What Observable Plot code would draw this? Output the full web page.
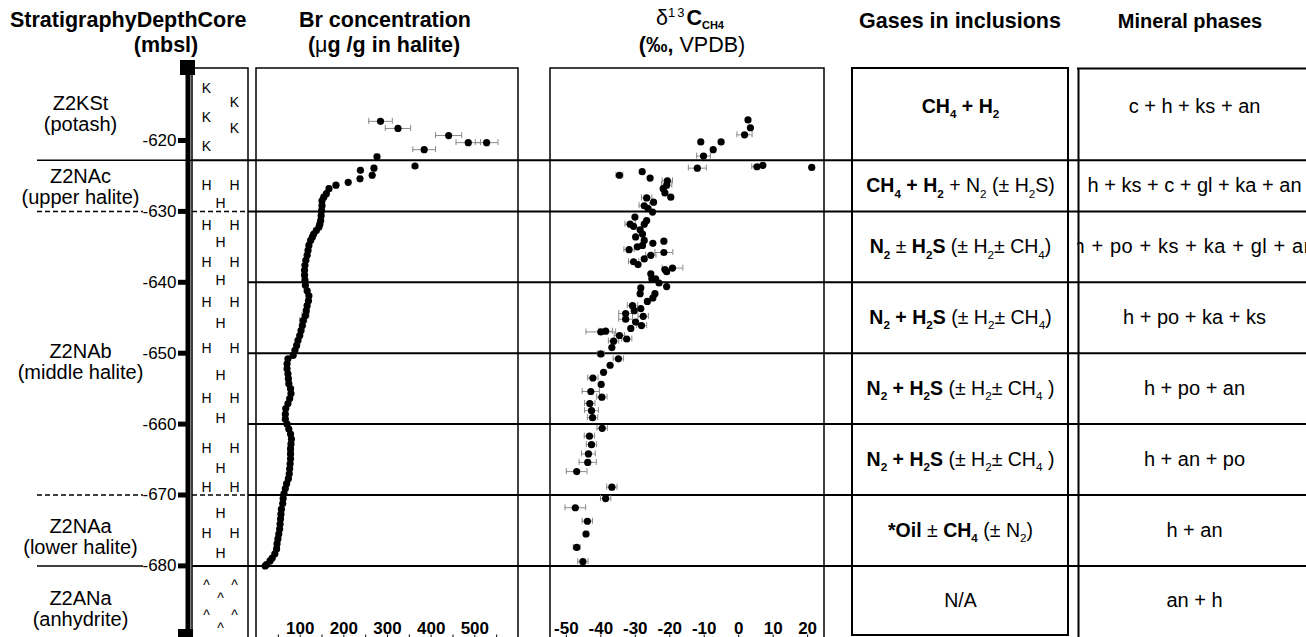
<!DOCTYPE html>
<html><head><meta charset="utf-8">
<script src="https://cdn.jsdelivr.net/npm/d3@7"></script>
<script src="https://cdn.jsdelivr.net/npm/@observablehq/plot@0.6"></script>
<style>
body{margin:0;background:#fff;}
#chart{position:relative;width:1306px;height:637px;overflow:hidden;background:#fff;font-family:"Liberation Sans",Arial,Helvetica,sans-serif;color:#000;}
.hd{position:absolute;font-size:21.5px;font-weight:bold;line-height:24px;white-space:nowrap;}
.c{transform:translateX(-50%);}
.n{font-weight:normal;}
.sup{font-size:13px;position:relative;top:-8px;letter-spacing:2px;}
.sub{font-size:11px;position:relative;top:4px;}
</style></head><body><div id="chart"></div>
<script>
// ---------------- DATA ----------------
const depthTicks = [-620, -630, -640, -650, -660, -670, -680];
const unitNames = ["Z2KSt", "Z2NAc", "Z2NAb", "Z2NAa", "Z2ANa"];
const unitLithology = ["potash", "upper halite", "middle halite", "lower halite", "anhydrite"];
const unitBoundaries = [-622.8, -630, -670, -680];
const boundaryDashed = [false, true, true, false];
const rowBoundaries = [-622.8, -630, -640, -650, -660, -670, -680];
const gasesText = [
  "[CH{4} + H{2}]",
  "[CH{4} + H{2}] + N{2} (± H{2}S)",
  "[N{2}] ± [H{2}S] (± H{2}± CH{4})",
  "[N{2} + H{2}S] (± H{2}± CH{4})",
  "[N{2} + H{2}S] (± H{2}± CH{4} )",
  "[N{2} + H{2}S] (± H{2}± CH{4} )",
  "[*Oil] ± [CH{4}] (± N{2})",
  "N/A"
];
const mineralText = [
  "c + h + ks + an",
  "h + ks + c + gl + ka + an",
  "h + po + ks + ka + gl + an",
  "h + po + ka + ks",
  "h + po + an",
  "h + an + po",
  "h + an",
  "an + h"
];
const brTicks = [50, 100, 150, 200, 250, 300, 350, 400, 450, 500, 550];
const brTickLabels = [100, 200, 300, 400, 500];
const d13Ticks = [-50, -40, -30, -20, -10, 0, 10, 20];
// [depth, symbol, columns]
const coreSymbols = [
  [-612.7, "K", "L"], [-614.6, "K", "R"], [-616.8, "K", "L"], [-618.3, "K", "R"], [-620.8, "K", "L"],
  [-626.3, "H", "LR"], [-628.9, "H", "M"], [-632.0, "H", "LR"], [-634.4, "H", "M"],
  [-637.2, "H", "LR"], [-639.7, "H", "M"], [-642.8, "H", "LR"], [-645.8, "H", "M"],
  [-649.3, "H", "LR"], [-653.1, "H", "M"], [-656.4, "H", "LR"], [-659.2, "H", "M"],
  [-663.4, "H", "LR"], [-666.3, "H", "M"], [-668.9, "H", "LR"], [-672.6, "H", "M"],
  [-675.4, "H", "LR"], [-678.3, "H", "M"],
  [-682.3, "^", "LR"], [-684.2, "^", "M"], [-686.6, "^", "LR"], [-688.4, "^", "M"]
];
// Br concentration: [depth (mbsl), Br (µg/g), error]
const brSamples = [
  [-617.3,284,27],[-618.3,324,29],[-619.3,440,30],[-620.3,485,28],[-620.3,527,26],[-621.3,384,26],
  [-622.3,276,5],[-623.6,363,0],[-623.9,269,4],[-624.2,238,4],[-624.9,265,4],[-625.4,237,4],
  [-625.9,210,0],[-626.3,182,0],[-626.8,166,3],[-627.5,160,3],[-628.0,154,0],[-628.5,150,4],
  [-629.2,150,6],[-629.9,149,0],[-630.6,148,0],[-631.3,147,4],[-631.8,145,0],[-632.2,143,0],
  [-632.7,137,5],[-633.2,131,0],[-633.6,128,0],[-634.1,124,0],[-634.8,120,5],[-635.5,118,0],
  [-636.2,116,0],[-636.9,113,0],[-637.6,111,0],[-638.3,110,0],[-639.0,110,0],[-639.7,111,0],
  [-640.4,112,0],[-641.2,116,0],[-641.9,120,0],[-642.6,119,0],[-643.3,116,0],[-644.0,114,0],
  [-644.7,112,8],[-645.4,107,8],[-646.1,105,0],[-646.8,102,0],[-647.5,99,0],[-648.2,95,0],
  [-648.9,92,0],[-649.6,88,0],[-650.3,84,0],[-650.8,72,0],[-651.5,70,0],[-652.2,70,0],
  [-652.9,72,0],[-653.6,73,0],[-654.3,74,0],[-655.0,78,0],[-655.7,79,0],[-656.4,76,0],
  [-657.1,72,0],[-657.8,67,0],[-658.6,66,0],[-659.3,66,0],[-660.0,70,0],[-660.7,74,0],
  [-661.4,78,0],[-662.1,80,0],[-662.8,79,0],[-663.5,78,6],[-664.2,78,6],[-664.9,78,0],
  [-665.6,77,0],[-666.3,76,0],[-667.0,75,0],[-667.7,73,0],[-668.4,69,0],[-669.1,66,0],
  [-669.8,63,0],[-670.5,61,0],[-671.2,60,0],[-672.0,57,0],[-672.7,56,0],[-673.4,55,0],
  [-674.1,54,0],[-674.8,53,0],[-675.5,51,0],[-676.2,49,0],[-676.9,47,0],[-677.6,46,0],
  [-678.3,42,0],[-678.9,36,0],[-679.3,31,0],[-679.8,23,0],[-680.0,20,0]
];
// δ13C of CH4: [depth (mbsl), ‰ VPDB, error]
const d13Samples = [
  [-617.1,2.7,0],[-618.2,3.4,0],[-619.2,1.7,2.2],[-620.2,-11.0,0],[-620.2,-5.1,0],[-621.3,-7.4,0],
  [-622.2,-10.2,2],[-623.9,-12.0,2.6],[-623.7,5.3,1.5],[-623.5,7.0,0],[-623.8,21.2,0],
  [-624.9,-34.6,1],[-624.4,-28.0,0],[-625.3,-25.7,0],[-625.7,-20.7,1.5],[-626.3,-20.9,1.5],
  [-626.8,-21.9,0],[-627.4,-21.4,0],[-628.0,-19.7,0],[-628.1,-26.7,1.5],[-628.7,-24.7,0],
  [-629.2,-27.4,1.5],[-629.6,-26.3,0],[-630.1,-25.0,0],[-630.8,-30.1,0],[-631.3,-26.7,0],
  [-631.8,-31.5,1.5],[-632.1,-30.5,0],[-631.8,-27.4,0],[-632.6,-28.6,0],[-633.2,-27.9,0],
  [-633.6,-29.9,0],[-634.1,-27.4,0],[-634.5,-24.9,0],[-634.2,-21.7,0],[-635.0,-29.4,0],
  [-635.4,-31.8,1.5],[-634.8,-27.9,0],[-636.2,-25.5,1.5],[-635.8,-21.7,2.6],[-636.7,-27.4,0],
  [-637.1,-30.5,1.5],[-637.5,-29.2,0],[-638.2,-21.4,0],[-638.0,-19.2,3],[-638.5,-20.9,0],
  [-638.8,-25.5,0],[-639.5,-25.2,0],[-639.5,-24.1,0],[-640.1,-23.1,0],[-640.6,-20.9,0],
  [-640.8,-28.4,0],[-641.6,-28.6,0],[-641.6,-24.3,0],[-642.2,-24.9,0],[-642.7,-26.5,0],
  [-643.3,-30.8,1.5],[-643.7,-28.4,0],[-644.0,-30.3,0],[-644.4,-32.8,2],[-645.2,-32.8,2],
  [-644.8,-27.7,1.5],[-645.6,-29.9,0],[-646.1,-28.2,1.5],[-646.5,-31.3,0],[-647.0,-40.0,4.3],
  [-646.9,-38.6,2],[-647.5,-34.6,1.5],[-648.0,-32.5,1.5],[-648.3,-36.3,1.5],[-649.2,-36.8,0],
  [-650.1,-40.0,1],[-650.8,-34.9,1.5],[-651.7,-37.3,0],[-652.7,-39.2,0],[-653.5,-42.3,1.5],
  [-654.4,-39.9,0],[-655.4,-42.9,2.5],[-656.2,-39.7,1.5],[-657.1,-43.2,1.5],[-658.1,-42.7,2],
  [-659.1,-42.4,1.5],[-660.6,-39.6,1.5],[-661.7,-43.3,1.5],[-662.9,-42.7,1.5],[-664.2,-43.6,2],
  [-665.4,-43.8,2.5],[-666.7,-47.0,3],[-668.9,-36.8,1.5],[-670.5,-38.6,1.5],[-671.8,-47.4,3],
  [-673.7,-43.9,1.5],[-675.5,-44.3,0.5],[-677.4,-47.0,1],[-679.4,-45.2,1.5]
];

// ---------------- LAYOUT ----------------
const W = 1306, H = 637;
const PX_PER_M = 7.09, PX_AT_620 = 140;
const px2d = p => -620 - (p - PX_AT_620) / PX_PER_M;
const d2px = d => PX_AT_620 + (-620 - d) * PX_PER_M;
const Y = {domain: [px2d(0), px2d(H)], range: [0, H], axis: null};
const PANEL_TOP = px2d(68);
const BELOW = px2d(H + 8);
const CAP = 3 / PX_PER_M;
const FONT = "'Liberation Sans', Arial, Helvetica, sans-serif";
const LAY = {
  stratX: 80, leftLineX1: 37, leftLineX2: 143, tickX1: 178, tickLabelX: 176,
  barX: 187.5, barTop: 66, coreX1: 192, coreX2: 248,
  coreCols: {L: 206, M: 220, R: 234},
  caps: [{x1: 180, x2: 195, top: 60, bottom: 75}, {x1: 178, x2: 193, top: 629, bottom: 645}],
  unitLabelShift: [-1, 1, 9, 6, 7],
  gases: [852, 1068], gasesBottom: 635, gasesCenter: 960,
  mineral: 1078, mineralCenter: 1194,
  br: [256, 518], d13: [550, 824]
};
const chart = document.getElementById("chart");
function mount(svg, left) {
  svg.style.position = "absolute";
  svg.style.left = left + "px";
  svg.style.top = "0px";
  svg.style.background = "transparent";
  svg.style.overflow = "hidden";
  svg.style.maxWidth = "none";
  svg.style.fontFamily = FONT;
  chart.appendChild(svg);
  return svg;
}
function richify(svg, fs) {
  const NS = "http://www.w3.org/2000/svg";
  svg.querySelectorAll("text").forEach(t => {
    const s = t.textContent;
    if (!/[\[\{]/.test(s)) return;
    t.textContent = "";
    let bold = false, sub = false, buf = "", cur = 0;
    const flush = () => {
      if (!buf) return;
      const ts = document.createElementNS(NS, "tspan");
      const target = sub ? fs * 0.28 : 0;
      if (target !== cur) { ts.setAttribute("dy", target - cur); cur = target; }
      if (bold) ts.setAttribute("font-weight", "bold");
      if (sub) ts.setAttribute("font-size", fs * 0.6);
      ts.textContent = buf; t.appendChild(ts); buf = "";
    };
    for (const ch of s) {
      if (ch === "[") { flush(); bold = true; }
      else if (ch === "]") { flush(); bold = false; }
      else if (ch === "{") { flush(); sub = true; }
      else if (ch === "}") { flush(); sub = false; }
      else buf += ch;
    }
    flush();
  });
}

// derived tables
const unitEdges = [PANEL_TOP, ...unitBoundaries, px2d(H)];
const units = unitNames.map((n, i) => ({label: n + "\n(" + unitLithology[i] + ")", top: unitEdges[i], base: unitEdges[i + 1], shift: LAY.unitLabelShift[i]}));
const stratBounds = unitBoundaries.map((d, i) => ({d, dashed: boundaryDashed[i]}));
const rowEdges = [PANEL_TOP, ...rowBoundaries, px2d(LAY.gasesBottom)];
const rows = gasesText.map((g, i) => ({gas: g, mineral: mineralText[i], top: rowEdges[i], base: rowEdges[i + 1], shift: i === 0 ? -8 : 0}));
const rowY = r => px2d((d2px(r.top) + d2px(r.base)) / 2 + r.shift);
const coreMarks = coreSymbols.flatMap(([d, s, cols]) => [...cols].map(c => ({d, s, c})));
const br = brSamples.map(([d, v, e]) => ({d, v, e}));
const d13 = d13Samples.map(([d, v, e]) => ({d, v, e}));

// ---------------- BACKGROUND: strat column, depth axis, core, gases ----------------
const bg = Plot.plot({
  width: W, height: H, margin: 0,
  x: {domain: [0, W], range: [0, W], axis: null},
  y: Y,
  marks: [
    Plot.ruleY(rowBoundaries, {y: d => d, x1: LAY.coreX2, x2: W, stroke: "#000", strokeWidth: 2}),
    Plot.ruleY(stratBounds.filter(b => !b.dashed), {y: "d", x1: LAY.leftLineX1, x2: b => depthTicks.includes(b.d) ? LAY.leftLineX2 : LAY.coreX1, stroke: "#000", strokeWidth: 1.5}),
    Plot.ruleY(stratBounds.filter(b => b.dashed), {y: "d", x1: LAY.leftLineX1, x2: LAY.leftLineX2, stroke: "#000", strokeWidth: 1.5, strokeDasharray: "5,3"}),
    Plot.ruleY(stratBounds.filter(b => !b.dashed), {y: "d", x1: LAY.coreX1, x2: LAY.coreX2, stroke: "#000", strokeWidth: 2}),
    Plot.ruleY(stratBounds.filter(b => b.dashed), {y: "d", x1: LAY.coreX1, x2: LAY.coreX2, stroke: "#000", strokeWidth: 1.5, strokeDasharray: "5,3"}),
    Plot.rect([0], {x1: () => LAY.coreX1, x2: () => LAY.coreX2, y1: () => PANEL_TOP, y2: () => BELOW, fill: "none", stroke: "#000", strokeWidth: 1.5}),
    Plot.rect([0], {x1: () => LAY.gases[0], x2: () => LAY.gases[1], y1: () => PANEL_TOP, y2: () => px2d(LAY.gasesBottom), fill: "none", stroke: "#000", strokeWidth: 2}),
    Plot.ruleX([0], {x: () => LAY.barX, y1: () => px2d(LAY.barTop), y2: () => BELOW, stroke: "#000", strokeWidth: 5}),
    Plot.rect(LAY.caps, {x1: "x1", x2: "x2", y1: c => px2d(c.top), y2: c => px2d(c.bottom), fill: "#000"}),
    Plot.ruleY(depthTicks, {y: d => d, x1: LAY.tickX1, x2: LAY.barX, stroke: "#000", strokeWidth: 5}),
    Plot.text(depthTicks, {y: d => d, x: LAY.tickLabelX, text: d => String(d), textAnchor: "end", fontSize: 17, fill: "#000"}),
    Plot.text(units, {x: LAY.stratX, y: u => px2d((d2px(u.top) + d2px(u.base)) / 2 + u.shift), text: "label", fontSize: 20, lineHeight: 1.05, fill: "#000"}),
    Plot.text(coreMarks.filter(m => m.s !== "^"), {x: m => LAY.coreCols[m.c], y: "d", text: "s", fontSize: 14, fill: "#000"}),
    Plot.text(coreMarks.filter(m => m.s === "^"), {x: m => LAY.coreCols[m.c], y: "d", text: "s", fontSize: 14, dy: 3, fill: "#000"}),
    Plot.text(rows, {x: LAY.gasesCenter, y: rowY, text: "gas", fontSize: 19.5, fill: "#000"})
  ]
});
mount(bg, 0);
richify(bg, 19.5);

// ---------------- Br panel ----------------
const brPlot = Plot.plot({
  width: (LAY.br[1] - LAY.br[0]) + 4, height: H, margin: 0,
  x: {domain: [0, 600], range: [2, LAY.br[1] - LAY.br[0] + 2], axis: null},
  y: Y,
  marks: [
    Plot.rect([0], {x1: () => 0, x2: () => 600, y1: () => PANEL_TOP, y2: () => BELOW, fill: "none", stroke: "#000", strokeWidth: 1.5}),
    Plot.ruleY(br.filter(s => s.e > 0), {y: "d", x1: s => s.v - s.e, x2: s => s.v + s.e, stroke: "#8a8a8a", strokeWidth: 1}),
    Plot.ruleX(br.filter(s => s.e > 0), {x: s => s.v - s.e, y1: s => s.d + CAP, y2: s => s.d - CAP, stroke: "#8a8a8a", strokeWidth: 1}),
    Plot.ruleX(br.filter(s => s.e > 0), {x: s => s.v + s.e, y1: s => s.d + CAP, y2: s => s.d - CAP, stroke: "#8a8a8a", strokeWidth: 1}),
    Plot.dot(br, {x: "v", y: "d", r: 3.6, fill: "#000"}),
    Plot.ruleX(brTicks, {x: d => d, y1: px2d(634.5), y2: BELOW, stroke: "#000", strokeWidth: 1}),
    Plot.text(brTickLabels, {x: d => d, y: px2d(628.5), text: d => String(d), fontSize: 17, fontWeight: "bold", fill: "#000"})
  ]
});
mount(brPlot, LAY.br[0] - 2);

// ---------------- δ13C panel ----------------
const d13Plot = Plot.plot({
  width: (LAY.d13[1] - LAY.d13[0]) + 4, height: H, margin: 0,
  x: {domain: [-54.6, 24.9], range: [2, LAY.d13[1] - LAY.d13[0] + 2], axis: null},
  y: Y,
  marks: [
    Plot.rect([0], {x1: () => -54.6, x2: () => 24.9, y1: () => PANEL_TOP, y2: () => BELOW, fill: "none", stroke: "#000", strokeWidth: 1.5}),
    Plot.ruleY(d13.filter(s => s.e > 0), {y: "d", x1: s => s.v - s.e, x2: s => s.v + s.e, stroke: "#8a8a8a", strokeWidth: 1}),
    Plot.ruleX(d13.filter(s => s.e > 0), {x: s => s.v - s.e, y1: s => s.d + CAP, y2: s => s.d - CAP, stroke: "#8a8a8a", strokeWidth: 1}),
    Plot.ruleX(d13.filter(s => s.e > 0), {x: s => s.v + s.e, y1: s => s.d + CAP, y2: s => s.d - CAP, stroke: "#8a8a8a", strokeWidth: 1}),
    Plot.dot(d13, {x: "v", y: "d", r: 3.6, fill: "#000"}),
    Plot.ruleX(d13Ticks, {x: d => d, y1: px2d(634.5), y2: BELOW, stroke: "#000", strokeWidth: 1}),
    Plot.text(d13Ticks, {x: d => d, y: px2d(628.5), text: d => String(d), fontSize: 17, fontWeight: "bold", fill: "#000"})
  ]
});
mount(d13Plot, LAY.d13[0] - 2);

// ---------------- Mineral phases panel ----------------
const MW = 240;
const minPlot = Plot.plot({
  width: MW, height: H, margin: 0,
  x: {domain: [0, MW], range: [0, MW], axis: null},
  y: Y,
  marks: [
    Plot.ruleX([0], {x: () => 1, y1: () => PANEL_TOP, y2: () => BELOW, stroke: "#000", strokeWidth: 2}),
    Plot.ruleY([0], {y: () => PANEL_TOP, x1: () => 0, x2: () => MW, stroke: "#000", strokeWidth: 2}),
    Plot.text(rows, {x: LAY.mineralCenter - LAY.mineral + 1, y: rowY, text: "mineral", fontSize: 20, fill: "#000"})
  ]
});
mount(minPlot, LAY.mineral - 1);
minPlot.querySelectorAll("text").forEach(t => { if (t.textContent === mineralText[2]) t.style.letterSpacing = "0.6px"; });

// ---------------- Column headers ----------------
const headers = [
  {html: "StratigraphyDepthCore", x: 10, top: 8, center: false},
  {html: "(mbsl)", x: 166, top: 33, center: true},
  {html: "Br concentration", x: 385, top: 8, center: true},
  {html: '(<span class="n">&mu;</span>g /g in halite)', x: 384, top: 33, center: true},
  {html: '<span class="n">&delta;</span><span class="sup n">13</span>C<span class="sub">CH4</span>', x: 690, top: 6, center: true},
  {html: '(&permil;, <span class="n">VPDB)</span>', x: 692, top: 33, center: true},
  {html: "Gases in inclusions", x: 960, top: 9, center: true},
  {html: '<span style="font-size:20px">Mineral phases</span>', x: 1190, top: 9, center: true}
];
headers.forEach(h => {
  const div = document.createElement("div");
  div.className = "hd" + (h.center ? " c" : "");
  div.style.left = h.x + "px";
  div.style.top = h.top + "px";
  div.innerHTML = h.html;
  chart.appendChild(div);
});
</script></body></html>
